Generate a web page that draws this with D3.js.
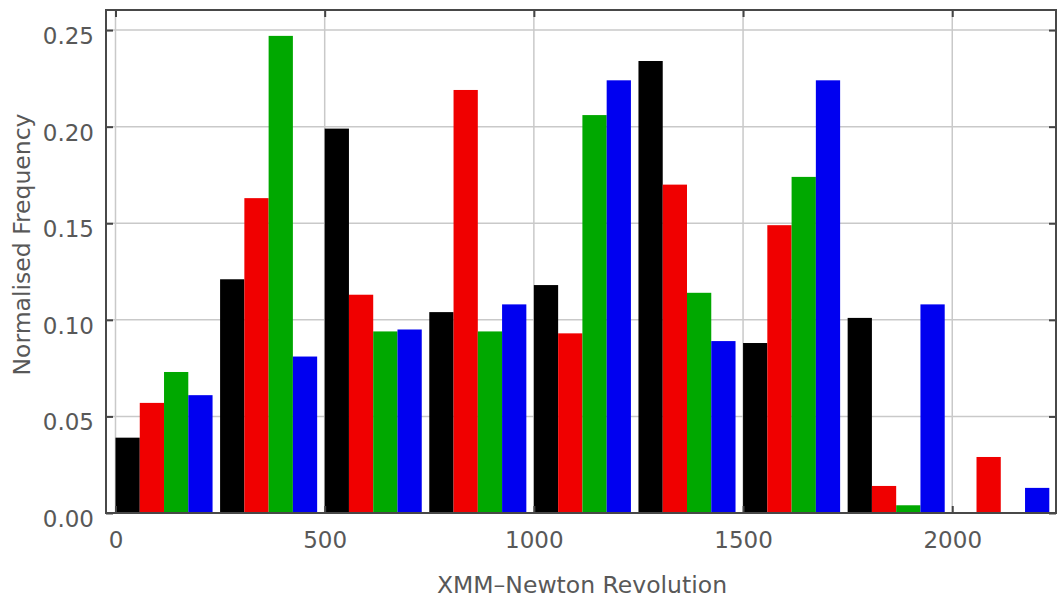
<!DOCTYPE html>
<html>
<head>
<meta charset="utf-8">
<script src="https://cdn.jsdelivr.net/npm/d3@7"></script>
<style>
  html, body { margin: 0; padding: 0; background: #fff; }
  svg { display: block; }
  text { font-family: "DejaVu Sans", Verdana, sans-serif; }
</style>
</head>
<body>
<svg id="chart" width="1059" height="603"></svg>
<script>
// ---- data ----
const binStarts = [0, 250, 500, 750, 1000, 1250, 1500, 1750, 2000];
const binWidth = 250;
const seriesColors = ["#000000", "#f00000", "#00a800", "#0000f0"];
const seriesBlack = [0.039, 0.121, 0.199, 0.104, 0.118, 0.234, 0.088, 0.101, 0.000];
const seriesRed   = [0.057, 0.163, 0.113, 0.219, 0.093, 0.170, 0.149, 0.014, 0.029];
const seriesGreen = [0.073, 0.247, 0.094, 0.094, 0.206, 0.114, 0.174, 0.004, 0.000];
const seriesBlue  = [0.061, 0.081, 0.095, 0.108, 0.224, 0.089, 0.224, 0.108, 0.013];
const xTicks = [0, 500, 1000, 1500, 2000];
const yTicks = [0.00, 0.05, 0.10, 0.15, 0.20, 0.25];
const xTitle = "XMM\u2013Newton Revolution";
const yTitle = "Normalised Frequency";

const allSeries = [seriesBlack, seriesRed, seriesGreen, seriesBlue];

// ---- layout ----
const plotLeft = 106, plotRight = 1056, plotTop = 10, plotBottom = 513;
const barUnits = 58; // width of one bar in revolution units

const svg = d3.select("#chart");
const x = d3.scaleLinear().domain([-22.7, 2248]).range([plotLeft, plotRight]);
const y = d3.scaleLinear().domain([0, 0.2604]).range([plotBottom, plotTop]);

// gridlines
const grid = svg.append("g").attr("stroke", "#c9c9c9").attr("stroke-width", 1.5);
grid.selectAll("line.h").data(yTicks.filter(d => d > 0)).join("line")
  .attr("class", "h")
  .attr("x1", plotLeft).attr("x2", plotRight)
  .attr("y1", d => y(d)).attr("y2", d => y(d));
grid.selectAll("line.v").data(xTicks).join("line")
  .attr("class", "v")
  .attr("y1", plotTop).attr("y2", plotBottom)
  .attr("x1", d => x(d)).attr("x2", d => x(d));

// bars
const barData = [];
allSeries.forEach((vals, si) => {
  vals.forEach((v, bi) => {
    barData.push({ s: si, start: binStarts[bi] + si * barUnits, v: v });
  });
});
svg.append("g").selectAll("rect").data(barData.filter(d => d.v > 0)).join("rect")
  .attr("x", d => x(d.start))
  .attr("width", d => x(d.start + barUnits) - x(d.start))
  .attr("y", d => y(d.v))
  .attr("height", d => y(0) - y(d.v))
  .attr("fill", d => seriesColors[d.s]);

// axes
const fontSize = 23;
const styleAxis = g => {
  g.select(".domain").remove();
  g.selectAll(".tick line").attr("stroke", "#444").attr("stroke-width", 2);
  g.selectAll(".tick text").attr("fill", "#585858")
    .style("font-size", fontSize + "px")
    .style("font-family", "'DejaVu Sans', sans-serif");
};

svg.append("g").attr("transform", `translate(${plotLeft},0)`)
  .call(d3.axisLeft(y).tickValues(yTicks).tickFormat(d3.format(".2f")).tickSize(-7).tickPadding(12))
  .call(styleAxis)
  .call(g => g.selectAll(".tick text").attr("dy", "0.58em"));

svg.append("g").attr("transform", `translate(0,${plotBottom})`)
  .call(d3.axisBottom(x).tickValues(xTicks).tickFormat(d3.format("d")).tickSize(-7).tickPadding(19))
  .call(styleAxis);

svg.append("g").attr("transform", `translate(0,${plotTop})`)
  .call(d3.axisTop(x).tickValues(xTicks).tickFormat("").tickSize(-7))
  .call(styleAxis);

svg.append("g").attr("transform", `translate(${plotRight},0)`)
  .call(d3.axisRight(y).tickValues(yTicks).tickFormat("").tickSize(-7))
  .call(styleAxis);

// frame
svg.append("rect")
  .attr("x", plotLeft).attr("y", plotTop)
  .attr("width", plotRight - plotLeft).attr("height", plotBottom - plotTop)
  .attr("fill", "none").attr("stroke", "#484848").attr("stroke-width", 2);

// titles
svg.append("text")
  .attr("x", (plotLeft + plotRight) / 2 + 1).attr("y", 593)
  .attr("text-anchor", "middle")
  .attr("fill", "#585858")
  .style("font-size", "23.5px")
  .text(xTitle);

svg.append("text")
  .attr("transform", "rotate(-90)")
  .attr("x", -244.5).attr("y", 30)
  .attr("text-anchor", "middle")
  .attr("fill", "#585858")
  .style("font-size", "23.5px")
  .text(yTitle);
</script>
</body>
</html>
